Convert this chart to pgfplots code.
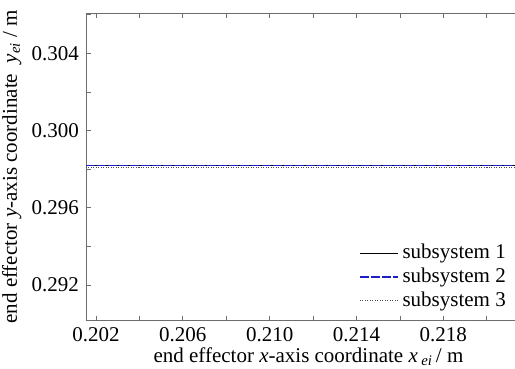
\documentclass[border=0pt]{standalone}
\usepackage{fontspec}
\setmainfont{Liberation Serif}
\newfontfamily\tnr{Liberation Serif}
\usepackage{pgfplots}
\pgfplotsset{compat=1.18}
\definecolor{axgray}{RGB}{110,110,110}
\definecolor{lineblue}{RGB}{30,30,200}
\begin{document}
\tnr\fontsize{21}{25}\selectfont
\begin{tikzpicture}[font=\tnr\fontsize{21}{25}\selectfont]
\begin{axis}[
  scale only axis,
  width=429pt, height=307.7pt,
  xmin=0.20154, xmax=0.2213,
  ymin=0.29015, ymax=0.30609,
  axis x line*=box,
  axis y line*=left,
  axis line style={axgray, line width=0.8pt, -},
  tick style={axgray, line width=0.8pt},
  major tick length=5pt, minor tick length=5pt,
  tick align=inside,
  tick label style={font=\tnr\fontsize{21}{25}\selectfont},
  label style={font=\tnr\fontsize{21}{25}\selectfont},
  legend style={font=\tnr\fontsize{21}{25}\selectfont},
  xtick={0.202,0.206,0.210,0.214,0.218},
  xticklabels={0.202,0.206,0.210,0.214,0.218},
  minor xtick={0.204,0.208,0.212,0.216,0.220},
  ytick={0.292,0.296,0.300,0.304},
  yticklabels={0.292,0.296,0.300,0.304},
  minor ytick={0.294,0.298,0.302,0.306},
  xtick pos=both,
  ytick pos=left,
  xlabel={end effector \textit{x}-axis coordinate \textit{x}\,\textsubscript{\textit{ei}}\,/ m},
  ylabel={end effector \textit{y}-axis coordinate \ \textit{y}\textsubscript{\textit{ei}} / m},
  xlabel style={yshift=9pt, xshift=8pt},
  ylabel style={yshift=-4pt},
  legend cell align=left,
  legend style={draw=none, fill=white, at={(1,0)}, anchor=south east, xshift=-4pt, yshift=6pt, row sep=-2pt, inner sep=1pt, nodes={inner sep=4pt}},
  legend image code/.code={\draw[#1] (0pt,0pt) -- (38pt,0pt);},
]
\addplot[black, line width=0.9pt] coordinates {(0.20154,0.29817) (0.204,0.29817) (0.208,0.29817) (0.212,0.29817) (0.216,0.29817) (0.220,0.29817) (0.2213,0.29817)};
\addlegendentry{subsystem 1}
\addplot[lineblue, line width=1.3pt, dash pattern=on 9pt off 2pt] coordinates {(0.20154,0.29818) (0.204,0.29818) (0.208,0.29818) (0.212,0.29818) (0.216,0.29818) (0.220,0.29818) (0.2213,0.29818)};
\addlegendentry{subsystem 2}
\addplot[black!70, line width=0.7pt, dash pattern=on 1pt off 1.5pt] coordinates {(0.20154,0.29812) (0.204,0.29812) (0.208,0.29812) (0.212,0.29812) (0.216,0.29812) (0.220,0.29812) (0.2213,0.29812)};
\addlegendentry{subsystem 3}
\end{axis}
\pgfresetboundingbox
\path ([shift={(-86pt,-47.3pt)}]current axis.south west) rectangle ([shift={(0pt,13pt)}]current axis.north east);
\end{tikzpicture}
\end{document}
